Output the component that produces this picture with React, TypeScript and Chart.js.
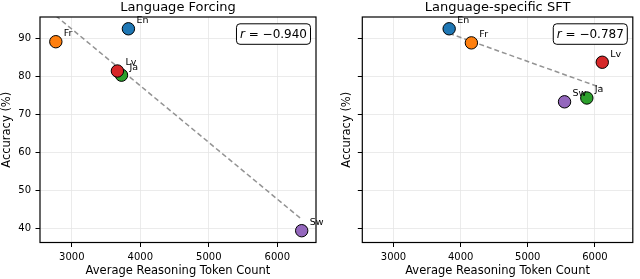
import React, { useEffect, useRef } from "react";
import { Chart, registerables } from "chart.js";

Chart.register(...registerables);

// ---------- data ----------
const languages = ["En", "Fr", "Ja", "Lv", "Sw"];
const pointColors = ["#1f77b4", "#ff7f0e", "#2ca02c", "#d62728", "#9467bd"];

const forcingTokens = [3826, 2766, 3725, 3665, 6356];
const forcingAccuracy = [92.5, 89.1, 80.3, 81.4, 39.4];
const forcingFitX = [2766, 6356];
const forcingFitY = [95.9, 42.4];
const forcingR = "\u22120.940";

const sftTokens = [3829, 4160, 5880, 6110, 5548];
const sftAccuracy = [92.5, 88.8, 74.3, 83.7, 73.3];
const sftFitX = [3829, 6110];
const sftFitY = [91.3, 76.9];
const sftR = "\u22120.787";

const xTicks = [3000, 4000, 5000, 6000];
const yTicks = [40, 50, 60, 70, 80, 90];
const xRange = [2535, 6565];
const yRange = [36.3, 95.6];

const FAMILY = "'DejaVu Sans', sans-serif";

type PanelProps = {
  title: string;
  tokens: number[];
  accuracy: number[];
  fitX: number[];
  fitY: number[];
  r: string;
  showYLabels: boolean;
  yAxisWidth: number;
  yTitlePad: number;
  rightPad: number;
  width: number;
};

function Panel(props: PanelProps) {
  const ref = useRef<HTMLCanvasElement | null>(null);
  useEffect(() => {
    if (!ref.current) return;
    const p = props;
    const overlay = {
      id: "overlay",
      afterDatasetsDraw(chart: any) {
        const ctx = chart.ctx as CanvasRenderingContext2D;
        const a = chart.chartArea;
        ctx.save();
        // frame (all four spines)
        ctx.strokeStyle = "#000";
        ctx.lineWidth = 1.2;
        ctx.strokeRect(a.left, a.top, a.right - a.left, a.bottom - a.top);
        // point labels
        const meta = chart.getDatasetMeta(1);
        ctx.fillStyle = "#000";
        ctx.font = `9.5px ${FAMILY}`;
        ctx.textAlign = "left";
        ctx.textBaseline = "alphabetic";
        meta.data.forEach((el: any, i: number) => {
          ctx.fillText(languages[i], el.x + 8, el.y - 5.5);
        });
        // title
        ctx.font = `13px ${FAMILY}`;
        ctx.textAlign = "center";
        ctx.fillText(p.title, (a.left + a.right) / 2, 11);
        // r box
        ctx.font = `12px ${FAMILY}`;
        const rest = " = " + p.r;
        const wRest = ctx.measureText(rest).width;
        ctx.font = `italic 12px ${FAMILY}`;
        const wR = ctx.measureText("r").width;
        const padX = 3.5;
        const h = 20.5;
        const w = wR + wRest + padX * 2;
        const boxRight = a.right - 5.5;
        const boxTop = a.top + 6.8;
        const boxLeft = boxRight - w;
        ctx.beginPath();
        (ctx as any).roundRect(boxLeft, boxTop, w, h, 3.5);
        ctx.fillStyle = "#fff";
        ctx.fill();
        ctx.lineWidth = 1;
        ctx.strokeStyle = "#000";
        ctx.stroke();
        ctx.fillStyle = "#000";
        ctx.textAlign = "left";
        const base = boxTop + h / 2 + 4.3;
        ctx.fillText("r", boxLeft + padX, base);
        ctx.font = `12px ${FAMILY}`;
        ctx.fillText(rest, boxLeft + padX + wR, base);
        ctx.restore();
      },
    };

    const gridColor = "#e6e6e6";
    const chart = new Chart(ref.current, {
      type: "scatter",
      data: {
        datasets: [
          {
            type: "line",
            data: p.fitX.map((x, i) => ({ x, y: p.fitY[i] })),
            showLine: true,
            borderColor: "rgba(128,128,128,0.85)",
            borderWidth: 1.5,
            borderDash: [5, 3],
            pointRadius: 0,
            fill: false,
            order: 2,
          } as any,
          {
            type: "scatter",
            data: p.tokens.map((x, i) => ({ x, y: p.accuracy[i] })),
            pointBackgroundColor: pointColors,
            pointBorderColor: "#000",
            pointBorderWidth: 1,
            pointRadius: 6.2,
            pointHoverRadius: 6.2,
            order: 1,
          } as any,
        ],
      },
      options: {
        responsive: false,
        animation: false,
        events: [],
        layout: { padding: { top: 17, right: p.rightPad, bottom: 0, left: 0 } },
        plugins: {
          legend: { display: false },
          tooltip: { enabled: false },
          title: { display: false },
        },
        scales: {
          x: {
            type: "linear",
            min: xRange[0],
            max: xRange[1],
            afterBuildTicks: (s: any) => {
              s.ticks = xTicks.map((v) => ({ value: v }));
            },
            afterFit: (s: any) => {
              s.height = 36.5;
            },
            grid: {
              color: gridColor,
              lineWidth: 0.8,
              drawTicks: true,
              tickLength: 4.5,
              tickColor: "#000",
              tickWidth: 1,
            },
            border: { display: false },
            ticks: {
              color: "#000",
              font: { family: FAMILY, size: 10 },
              padding: 4,
              maxRotation: 0,
              autoSkip: false,
              callback: (v: any) => String(v),
            },
            title: {
              display: true,
              text: "Average Reasoning Token Count",
              color: "#000",
              font: { family: FAMILY, size: 11.5 },
              padding: { top: 0, bottom: 1.5 },
            },
          },
          y: {
            type: "linear",
            min: yRange[0],
            max: yRange[1],
            afterBuildTicks: (s: any) => {
              s.ticks = yTicks.map((v) => ({ value: v }));
            },
            afterFit: (s: any) => {
              s.width = p.yAxisWidth;
            },
            grid: {
              color: gridColor,
              lineWidth: 0.8,
              drawTicks: true,
              tickLength: 4.5,
              tickColor: "#000",
              tickWidth: 1,
            },
            border: { display: false },
            ticks: {
              display: p.showYLabels,
              color: "#000",
              font: { family: FAMILY, size: 10 },
              padding: 4.5,
              autoSkip: false,
              callback: (v: any) => String(v),
            },
            title: {
              display: true,
              text: "Accuracy (%)",
              color: "#000",
              font: { family: FAMILY, size: 11.5 },
              padding: { top: p.yTitlePad, bottom: 0 },
            },
          },
        },
      } as any,
      plugins: [overlay],
    });
    return () => chart.destroy();
  }, []);
  return <canvas ref={ref} width={props.width} height={279} />;
}

export default function App() {
  return (
    <div style={{ position: "absolute", left: 0, top: 0, width: 640, height: 279, background: "#fff" }}>
      <div style={{ position: "absolute", left: 0, top: 0, zIndex: 1 }}>
        <Panel
          title="Language Forcing"
          tokens={forcingTokens}
          accuracy={forcingAccuracy}
          fitX={forcingFitX}
          fitY={forcingFitY}
          r={forcingR}
          showYLabels={true}
          yAxisWidth={40}
          yTitlePad={0.5}
          rightPad={14}
          width={330}
        />
      </div>
      <div style={{ position: "absolute", left: 320, top: 0, zIndex: 2 }}>
        <Panel
          title="Language-specific SFT"
          tokens={sftTokens}
          accuracy={sftAccuracy}
          fitX={sftFitX}
          fitY={sftFitY}
          r={sftR}
          showYLabels={false}
          yAxisWidth={42.3}
          yTitlePad={20.4}
          rightPad={1.7}
          width={320}
        />
      </div>
    </div>
  );
}
